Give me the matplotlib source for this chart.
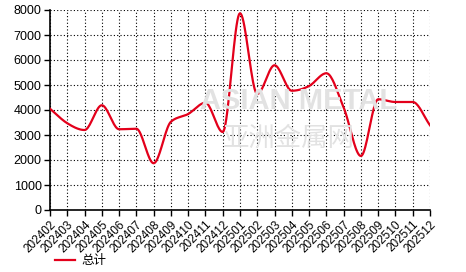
import numpy as np
import matplotlib
matplotlib.use("Agg")
import matplotlib.pyplot as plt

plt.rcParams["font.family"] = ["Liberation Sans", "Noto Sans CJK SC", "DejaVu Sans"]

months = ["202402", "202403", "202404", "202405", "202406", "202407", "202408",
          "202409", "202410", "202411", "202412", "202501", "202502", "202503",
          "202504", "202505", "202506", "202507", "202508", "202509", "202510",
          "202511", "202512"]
totals = [4050, 3470, 3200, 4190, 3230, 3250, 1870, 3530, 3840, 4290, 3120,
          7870, 4640, 5790, 4770, 4960, 5470, 4100, 2160, 4430, 4320, 4320, 3390]

LINE_COLOR = "#e3001b"


def monotone_curve(x, y, n=20):
    # monotone cubic (like d3 curveMonotoneX), only for drawing the line smoothly
    x = np.asarray(x, float)
    y = np.asarray(y, float)
    h = np.diff(x)
    s = np.diff(y) / h
    m = np.zeros_like(y)
    for i in range(1, len(y) - 1):
        if s[i - 1] * s[i] <= 0:
            m[i] = 0.0
        else:
            p = (s[i - 1] * h[i] + s[i] * h[i - 1]) / (h[i - 1] + h[i])
            m[i] = np.sign(s[i - 1]) * min(2 * abs(s[i - 1]), 2 * abs(s[i]), abs(p))
    m[0] = s[0]
    m[-1] = s[-1]
    xs, ys = [], []
    for i in range(len(x) - 1):
        t = np.linspace(0, 1, n, endpoint=False)
        h00 = 2 * t**3 - 3 * t**2 + 1
        h10 = t**3 - 2 * t**2 + t
        h01 = -2 * t**3 + 3 * t**2
        h11 = t**3 - t**2
        xs.append(x[i] + t * h[i])
        ys.append(h00 * y[i] + h10 * h[i] * m[i] + h01 * y[i + 1] + h11 * h[i] * m[i + 1])
    xs.append([x[-1]])
    ys.append([y[-1]])
    return np.concatenate(xs), np.concatenate(ys)


fig = plt.figure(figsize=(4.66, 2.72), dpi=100)
ax = fig.add_axes([50 / 466, 62 / 272, 380 / 466, 200 / 272])

# faint watermark
fig.text(0.64, 0.63, "ASIAN METAL", fontsize=21, fontweight="bold", color="#e2e2e2",
         ha="center", va="center", zorder=0)
fig.text(0.62, 0.49, "亚洲金属网", fontsize=19, color="#e2e2e2",
         ha="center", va="center", zorder=0)

xi = np.arange(len(months))
cx, cy = monotone_curve(xi, totals)
ax.plot(cx, cy, color=LINE_COLOR, linewidth=1.6, label="总计", zorder=3)

ax.set_xlim(0, len(months) - 1)
ax.set_ylim(0, 8000)
ax.set_yticks(np.arange(0, 8001, 1000))
ax.set_xticks(xi)
ax.set_xticklabels(months, rotation=45, ha="right", rotation_mode="anchor", fontsize=8.5)
ax.tick_params(axis="y", labelsize=9, length=4, width=1, pad=2)
ax.tick_params(axis="x", length=4, width=1, pad=2)

ax.grid(True, color="black", linestyle=(0, (1, 2)), linewidth=0.8)
ax.patch.set_alpha(0)
for side in ["top", "right"]:
    ax.spines[side].set_visible(False)
for side in ["left", "bottom"]:
    ax.spines[side].set_linewidth(1.2)

ax.legend(loc="lower left", bbox_to_anchor=(0.0, -0.31), frameon=False,
          fontsize=9, handlelength=1.6, handletextpad=0.5, borderaxespad=0)

fig.savefig("out.png", dpi=100)
